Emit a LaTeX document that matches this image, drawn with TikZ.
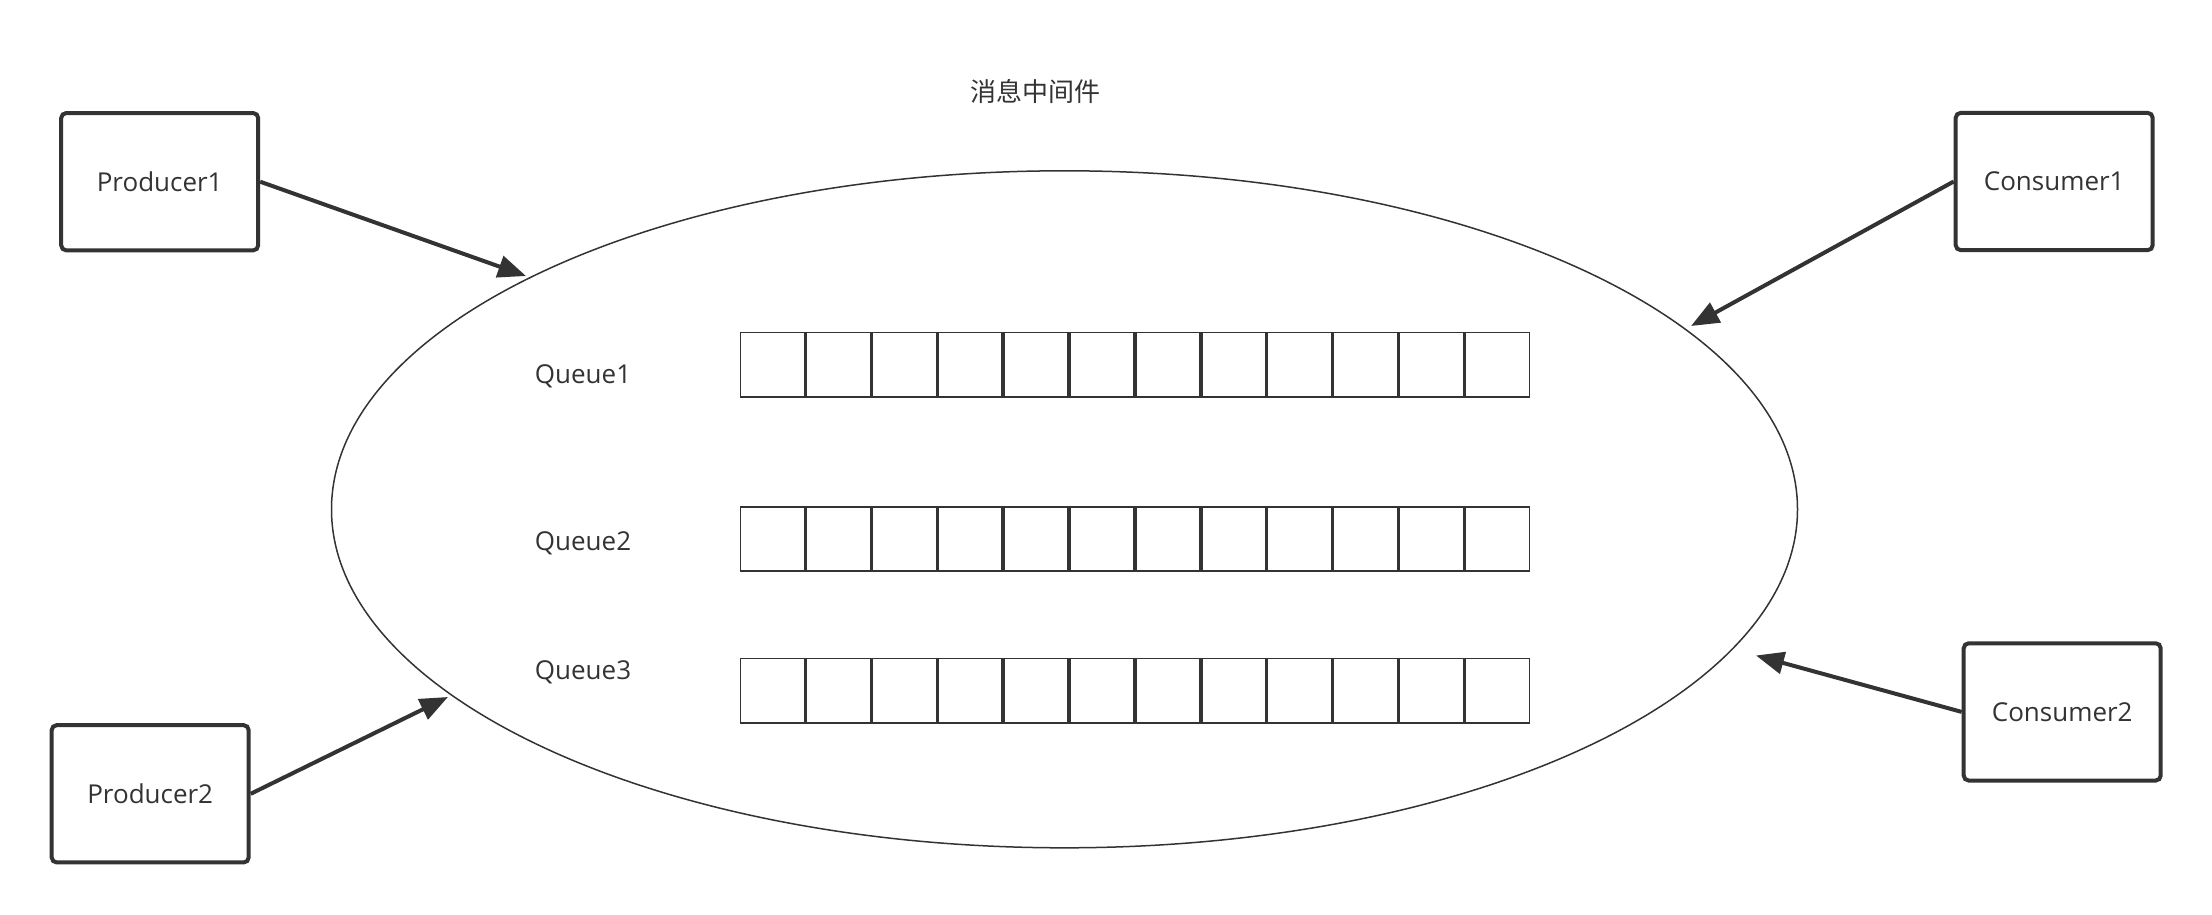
\documentclass[tikz,border=0pt]{standalone}
\usepackage{fontspec}
\setmainfont{Open Sans}
\newfontfamily\cjk{Noto Sans CJK SC}
\usetikzlibrary{arrows.meta,shapes.geometric}
\definecolor{ink}{HTML}{333333}
\begin{document}
\begin{tikzpicture}[x=1pt,y=-1pt,
  actor/.style={draw=ink, line width=4pt, rounded corners=5pt,
    minimum width=197pt, minimum height=137.3pt, inner sep=0pt,
    text=ink, font=\fontsize{26}{30}\selectfont},
  broker/.style={draw=ink, line width=1.5pt, ellipse, inner sep=0pt,
    minimum width=1466pt, minimum height=677pt},
  cell/.style={draw=ink, line width=1.7pt, inner sep=0pt,
    minimum width=64.2pt, minimum height=64.3pt},
  qlabel/.style={text=ink, anchor=base, inner sep=0pt,
    font=\fontsize{26}{30}\selectfont},
  title/.style={text=ink, inner sep=0pt, font=\cjk\fontsize{26}{30}\selectfont},
  conn/.style={draw=ink, line width=4pt,
    -{Triangle[length=28pt,width=22pt]}}
]
\useasboundingbox (0,0) rectangle (2212,914);

\node[title] (ttl) at (1035.5,91.7) {消息中间件};

\node[broker] (mq) at (1064.5,509.3) {};

\node[actor] (p1) at (159.7,181.7) {Producer1};
\node[actor] (c1) at (2054.2,181.5) {Consumer1};
\node[actor] (p2) at (150.2,793.8) {Producer2};
\node[actor] (c2) at (2062.2,711.9) {Consumer2};

\node[qlabel] (ql1) at (583,383.3) {Queue1};
\node[qlabel] (ql2) at (583,550) {Queue2};
\node[qlabel] (ql3) at (583,679) {Queue3};

\foreach \r/\y in {1/364.7, 2/538.9, 3/690.7}{
  \foreach \i in {0,...,11}{
    \node[cell] (q\r-\i) at ({739.5+65.9*(\i+0.5)},\y) {};
  }
}

\coordinate (t1) at (526,276);
\coordinate (t2) at (1691,326);
\coordinate (t3) at (448,697);
\coordinate (t4) at (1756,655.5);

\draw[conn] (p1.east) -- (t1);
\draw[conn] (c1.west) -- (t2);
\draw[conn] (p2.east) -- (t3);
\draw[conn] (c2.west) -- (t4);
\end{tikzpicture}
\end{document}
